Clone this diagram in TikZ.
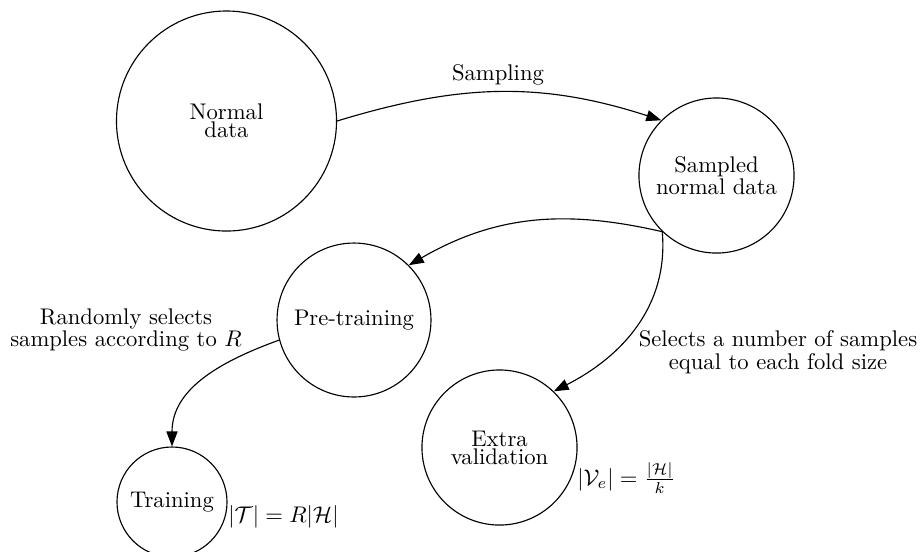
\documentclass[tikz,border=0pt]{standalone}
\usetikzlibrary{arrows.meta}
\begin{document}
\begin{tikzpicture}[x=0.4417pt,y=-0.4417pt,
  state/.style={circle,draw,line width=0.5pt,inner sep=0pt,align=center,
    font={\fontsize{10pt}{8pt}\selectfont}},
  lbl/.style={align=center,inner sep=0pt,font={\fontsize{10pt}{7.8pt}\selectfont}},
  edge/.style={line width=0.5pt,-{Triangle[length=6.6pt,width=4.9pt]}}]
\useasboundingbox (0,0) rectangle (921,551);
\node[state,minimum size=97.2pt] (nd) at (226.5,121) {Normal\\data};
\node[state,minimum size=68.5pt] (snd) at (716.5,175.5) {Sampled\\normal data};
\node[state,minimum size=68.0pt] (pt) at (354,320) {Pre-training};
\node[state,minimum size=68.5pt] (ev) at (499.5,447.5) {Extra\\validation};
\node[state,minimum size=48.6pt] (tr) at (172,502) {Training};
\draw[edge] (nd.0) to[out=17,in=162] (snd.135);
\draw[edge] (snd.226) to[out=167,in=30] (pt.45);
\draw[edge] (snd.226) to[out=-85,in=27] (ev.46);
\draw[edge] (pt.195) to[out=200,in=90] (tr.90);
\node[lbl] (l1) at (498,75) {Sampling};
\node[lbl] (l2) at (126,330) {Randomly selects\\samples according to $R$};
\node[lbl] (l3) at (778,352) {Selects a number of samples\\equal to each fold size};
\node[lbl,anchor=west] (l4) at (577,478) {$|\mathcal{V}_e| = \frac{|\mathcal{H}|}{k}$};
\node[lbl,anchor=west] (l5) at (228,517) {$|\mathcal{T}| = R|\mathcal{H}|$};
\end{tikzpicture}
\end{document}
